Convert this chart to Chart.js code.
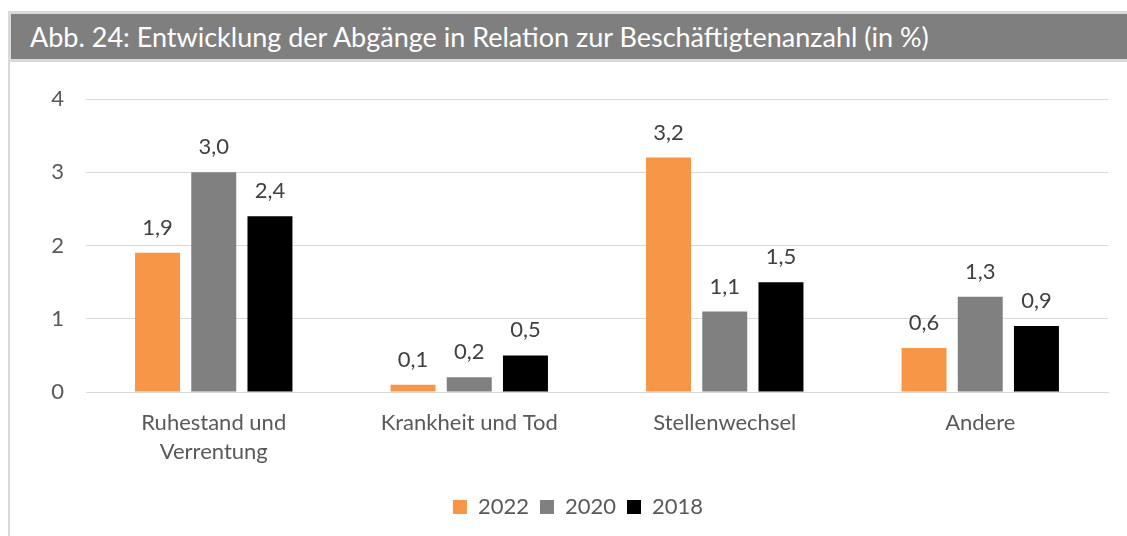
<!DOCTYPE html>
<html>
<head>
  <script src="https://cdn.jsdelivr.net/npm/chart.js"></script>
  <style>
    body { margin: 0; background: #fff; }
    #frame {
      position: absolute; left: 8px; top: 11px; width: 1119px; height: 525px;
      border-left: 2px solid #d9d9d9; box-sizing: border-box;
    }
    #title {
      position: absolute; left: 8px; top: 11px; width: 1119px; height: 51px;
      background: #7f7f7f; border: 3px solid #d9d9d9; border-right: none;
      box-sizing: border-box; color: #fff;
      font-family: Lato, sans-serif; font-size: 27px; line-height: 45px;
      padding-left: 19px; white-space: nowrap;
    }
    #wrap { position: absolute; left: 10px; top: 62px; width: 1117px; height: 474px; }
  </style>
</head>
<body>
  <div id="frame"></div>
  <div id="title">Abb. 24: Entwicklung der Abgänge in Relation zur Beschäftigtenanzahl (in %)</div>
  <div id="wrap"><canvas id="barChart"></canvas></div>

  <script>
    // data
    var categories = [['Ruhestand und', 'Verrentung'], 'Krankheit und Tod', 'Stellenwechsel', 'Andere'];
    var years = ['2022', '2020', '2018'];
    var values2022 = [1.9, 0.1, 3.2, 0.6];
    var values2020 = [3.0, 0.2, 1.1, 1.3];
    var values2018 = [2.4, 0.5, 1.5, 0.9];
    var yTicks = [0, 1, 2, 3, 4];

    var colors = ['#f79646', '#808080', '#000000'];
    var font = 'Lato, sans-serif';

    // draws the value above each bar, German decimal comma
    var valueLabels = {
      id: 'valueLabels',
      afterDatasetsDraw: function(chart) {
        var ctx = chart.ctx;
        ctx.save();
        ctx.font = '22px ' + font;
        ctx.fillStyle = '#404040';
        ctx.textAlign = 'center';
        ctx.textBaseline = 'middle';
        chart.data.datasets.forEach(function(ds, i) {
          chart.getDatasetMeta(i).data.forEach(function(bar, j) {
            var txt = ds.data[j].toFixed(1).replace('.', ',');
            ctx.fillText(txt, bar.x, bar.y - 25);
          });
        });
        ctx.restore();
      }
    };

    var config = {
      type: 'bar',
      data: {
        labels: categories,
        datasets: [
          { label: years[0], data: values2022, backgroundColor: colors[0] },
          { label: years[1], data: values2020, backgroundColor: colors[1] },
          { label: years[2], data: values2018, backgroundColor: colors[2] }
        ]
      },
      options: {
        responsive: true,
        maintainAspectRatio: false,
        animation: false,
        barPercentage: 0.8,
        categoryPercentage: 0.66,
        layout: { padding: { left: 38, right: 19, top: 37, bottom: 8 } },
        plugins: {
          title: { display: false },
          tooltip: { enabled: false },
          legend: {
            position: 'bottom',
            labels: {
              boxWidth: 14, boxHeight: 14, padding: 11,
              color: '#595959',
              font: { family: font, size: 22 }
            }
          }
        },
        scales: {
          x: {
            grid: { display: false, drawTicks: false },
            border: { display: true, color: '#d9d9d9', width: 1 },
            ticks: {
              color: '#595959', padding: 16, maxRotation: 0,
              font: { family: font, size: 22, lineHeight: 1.32 }
            },
            afterFit: function(scale) { scale.height = 93; }
          },
          y: {
            min: 0, max: 4,
            afterBuildTicks: function(scale) {
              scale.ticks = yTicks.map(function(v) { return { value: v }; });
            },
            grid: { color: '#d9d9d9', drawTicks: false },
            border: { display: false },
            ticks: {
              color: '#595959', padding: 22,
              font: { family: font, size: 22 }
            },
            afterFit: function(scale) { scale.width = 38; }
          }
        }
      },
      plugins: [valueLabels]
    };

    var ctx = document.getElementById('barChart').getContext('2d');
    new Chart(ctx, config);
  </script>
</body>
</html>
